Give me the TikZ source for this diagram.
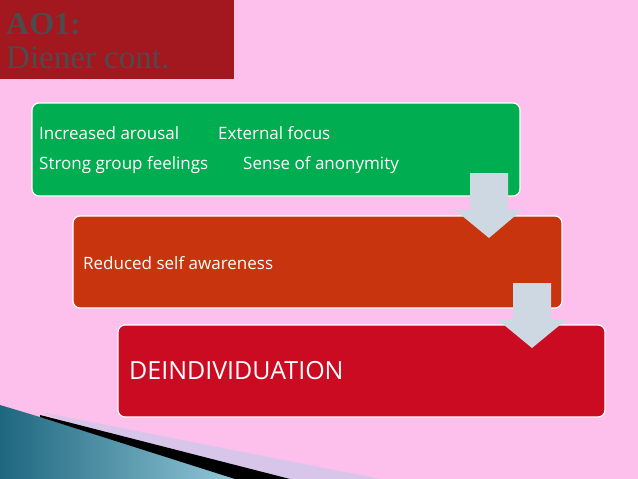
\documentclass[tikz,border=0pt]{standalone}
\usepackage{fontspec}
\setmainfont{Open Sans}
\newfontfamily\titlefont{Liberation Serif}
\begin{document}
\begin{tikzpicture}[x=1pt,y=-1pt,
  stepbox/.style={draw=white,line width=1.2pt,rounded corners=7pt},
  flowarrow/.style={fill=arrowgrey,draw=none},
  boxtext/.style={anchor=west,text=white,font=\fontsize{17}{20}\selectfont,inner sep=0}]
\definecolor{bg}{HTML}{FDBFEC}
\definecolor{titlered}{HTML}{A3171F}
\definecolor{boxgreen}{HTML}{00AD50}
\definecolor{boxorange}{HTML}{C8340E}
\definecolor{boxred}{HTML}{CB0B21}
\definecolor{arrowgrey}{HTML}{CDD8E2}
\definecolor{swblue}{HTML}{2A93B5}
\definecolor{swlav}{HTML}{D8C6EA}
\useasboundingbox (0,0) rectangle (638,479);
\fill[bg] (0,0) rectangle (638,479);
% swoosh
\fill[swlav] (40,412) -- (380,479) -- (230,479) -- cycle;
\shade[left color=swblue!70!black, right color=swblue!50!white] (0,405) -- (40,417) -- (240,479) -- (0,479) -- cycle;
\fill[black] (40,415) -- (290,479) -- (235,479) -- (40,417) -- cycle;
% title
\fill[titlered] (0,0) rectangle (234,79);
\node[anchor=west,text=black!70,font=\titlefont\bfseries\fontsize{32}{36}\selectfont,inner sep=0] (t1) at (6,24) {AO1:};
\node[anchor=west,text=black!70,font=\titlefont\fontsize{33}{36}\selectfont,inner sep=0] (t2) at (6,58) {Diener cont.};
% boxes
\draw[stepbox,fill=boxgreen] (32,103) rectangle (520,196);
\node[boxtext] (a1) at (39,133) {Increased arousal};
\node[boxtext] (a2) at (218,133) {External focus};
\node[boxtext] (a3) at (39,165) {Strong group feelings};
\node[boxtext] (a4) at (243,165) {Sense of anonymity};
\draw[stepbox,fill=boxorange] (73,216) rectangle (562,308);
\node[boxtext] (b1) at (83,263) {Reduced self awareness};
\draw[stepbox,fill=boxred] (118,325) rectangle (605,417);
\node[boxtext,font=\fontsize{25}{29}\selectfont] (c1) at (129,371) {DEINDIVIDUATION};
% arrows
\fill[flowarrow] (470,173) -- (508,173) -- (508,210) -- (522,210) -- (489,238) -- (455,210) -- (470,210) -- cycle;
\fill[flowarrow] (513,283) -- (551,283) -- (551,320) -- (566,320) -- (532,348) -- (498,320) -- (513,320) -- cycle;
\end{tikzpicture}
\end{document}
